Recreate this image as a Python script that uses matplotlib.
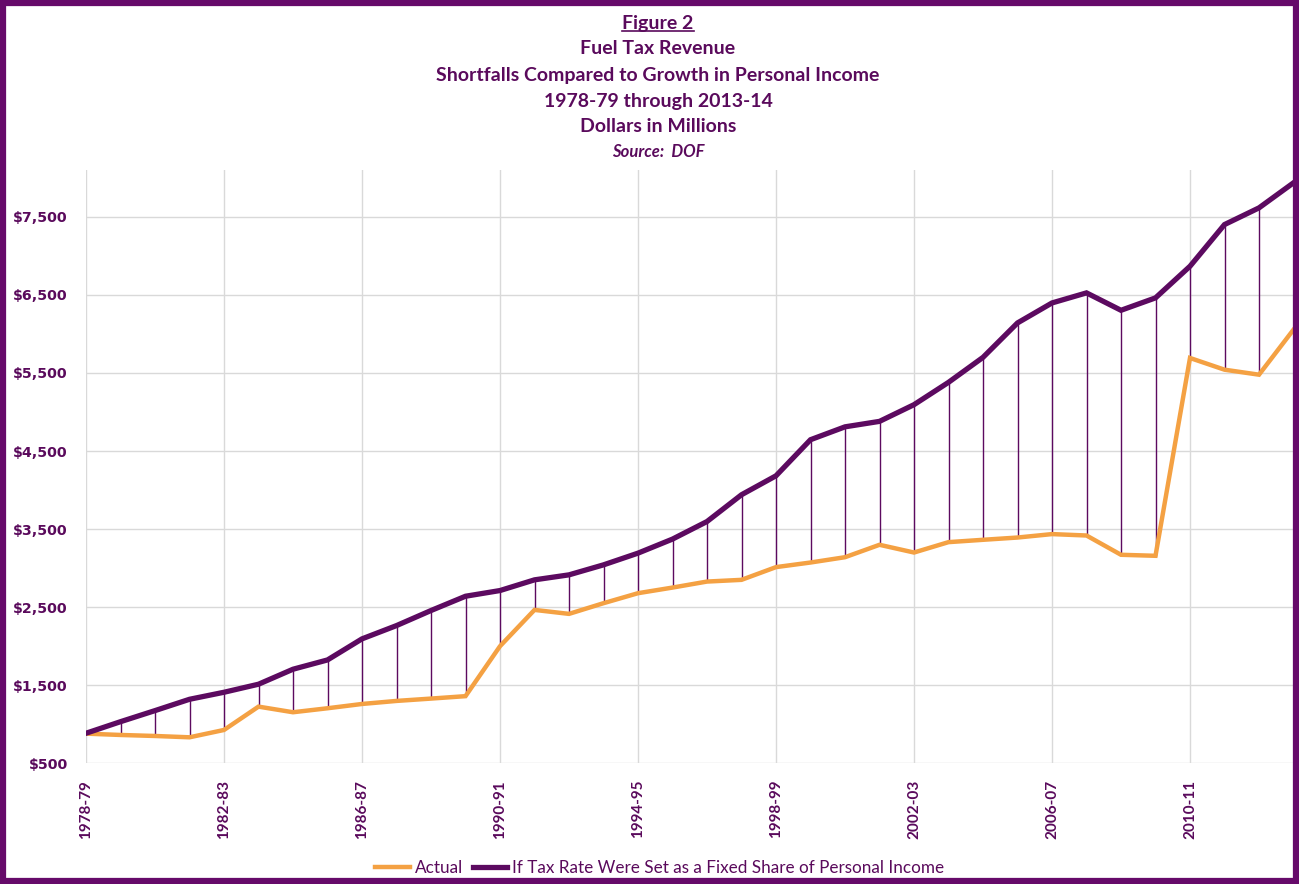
import matplotlib
matplotlib.use("Agg")
import matplotlib.pyplot as plt
from matplotlib.lines import Line2D
from matplotlib.patches import Rectangle
import numpy as np

# ---------------- data ----------------
start_years = list(range(1978, 2014))
fiscal_years = [f"{y}-{str(y + 1)[-2:]}" for y in start_years]

actual = [880, 863, 850, 833, 927, 1226, 1154, 1205, 1260, 1299, 1329, 1360,
          2000, 2465, 2414, 2551, 2679, 2751, 2828, 2850, 3013, 3072, 3140,
          3299, 3200, 3333, 3363, 3392, 3436, 3418, 3171, 3158, 5692, 5542,
          5478, 6055]

fixed_share = [885, 1033, 1175, 1320, 1410, 1513, 1705, 1824, 2094, 2264, 2457,
               2640, 2713, 2850, 2914, 3042, 3192, 3372, 3597, 3940, 4183, 4645,
               4810, 4880, 5094, 5380, 5700, 6141, 6397, 6526, 6303, 6462, 6867,
               7401, 7615, 7936]

ytick_values = [500, 1500, 2500, 3500, 4500, 5500, 6500, 7500]
xtick_every = 4

title_lines = ["Fuel Tax Revenue",
               "Shortfalls Compared to Growth in Personal Income",
               "1978-79 through 2013-14",
               "Dollars in Millions"]
legend_labels = ["Actual", "If Tax Rate Were Set as a Fixed Share of Personal Income"]

# ---------------- style ----------------
PURPLE = "#5c0a60"
BORDER = "#660a6a"
ORANGE = "#f4a143"
GRID = "#d9d9d9"
TEXT = "#5a0a5c"

W, H = 1299, 884
fig = plt.figure(figsize=(W / 100, H / 100), dpi=100)
fig.patch.set_facecolor("white")

ax = fig.add_axes([86 / W, 1 - 763.3 / H, (1293.5 - 86) / W, (763.3 - 170) / H])
x = np.arange(len(fiscal_years))

ax.vlines(x, actual, fixed_share, color=PURPLE, lw=1.0, zorder=3)
ax.plot(x, actual, color=ORANGE, lw=3.2, solid_joinstyle="miter", zorder=4)
ax.plot(x, fixed_share, color=PURPLE, lw=3.8, solid_joinstyle="miter", zorder=5)

ax.set_xlim(0, len(fiscal_years) - 1)
ax.set_ylim(500, 8100)
ax.set_yticks(ytick_values)
ax.set_yticklabels([f"${v:,}" for v in ytick_values], fontfamily="DejaVu Sans",
                   fontweight="bold", fontsize=10.2, color=TEXT)
ax.set_xticks(x[::xtick_every])
ax.set_xticklabels(fiscal_years[::xtick_every], rotation=90, fontfamily="Lato",
                   fontweight="bold", fontsize=11, color=TEXT)
ax.tick_params(axis="y", length=0, pad=13)
ax.tick_params(axis="x", length=0, pad=12)
ax.grid(True, color=GRID, lw=1.0)
ax.set_axisbelow(True)
for s in ax.spines.values():
    s.set_visible(False)

# ---------------- titles ----------------
cx = 658 / W
t0 = fig.text(cx, 1 - 23 / H, "Figure 2", ha="center", va="center", fontfamily="Lato",
              fontweight="bold", fontsize=14, color=TEXT)
ys = [49, 75, 101, 127]
for line, yy in zip(title_lines, ys):
    fig.text(cx, 1 - yy / H, line, ha="center", va="center", fontfamily="Lato",
             fontweight="bold", fontsize=14, color=TEXT)
fig.text(cx, 1 - 152 / H, "Source:  DOF", ha="center", va="center", fontfamily="Lato",
         fontweight="bold", fontstyle="italic", fontsize=12, color=TEXT)

# ---------------- legend ----------------
handles = [Line2D([], [], color=ORANGE, lw=3.2), Line2D([], [], color=PURPLE, lw=3.8)]
leg = fig.legend(handles, legend_labels, loc="center", bbox_to_anchor=(660 / W, 1 - 868 / H),
                 ncol=2, frameon=False, handlelength=2.0, handletextpad=0.3,
                 columnspacing=0.6, prop={"family": "Lato", "size": 12.3})
for t in leg.get_texts():
    t.set_color(TEXT)

# underline for "Figure 2"
fig.canvas.draw()
bb = t0.get_window_extent().transformed(fig.transFigure.inverted())
fig.add_artist(Line2D([bb.x0, bb.x1], [bb.y0 + 0.001, bb.y0 + 0.001], color=TEXT, lw=1.2,
                      transform=fig.transFigure))

# border
fig.add_artist(Rectangle((0.0025, 0.003), 0.995, 0.994, transform=fig.transFigure,
                         fill=False, edgecolor=BORDER, lw=4.5))

fig.savefig("out.png", dpi=100)
